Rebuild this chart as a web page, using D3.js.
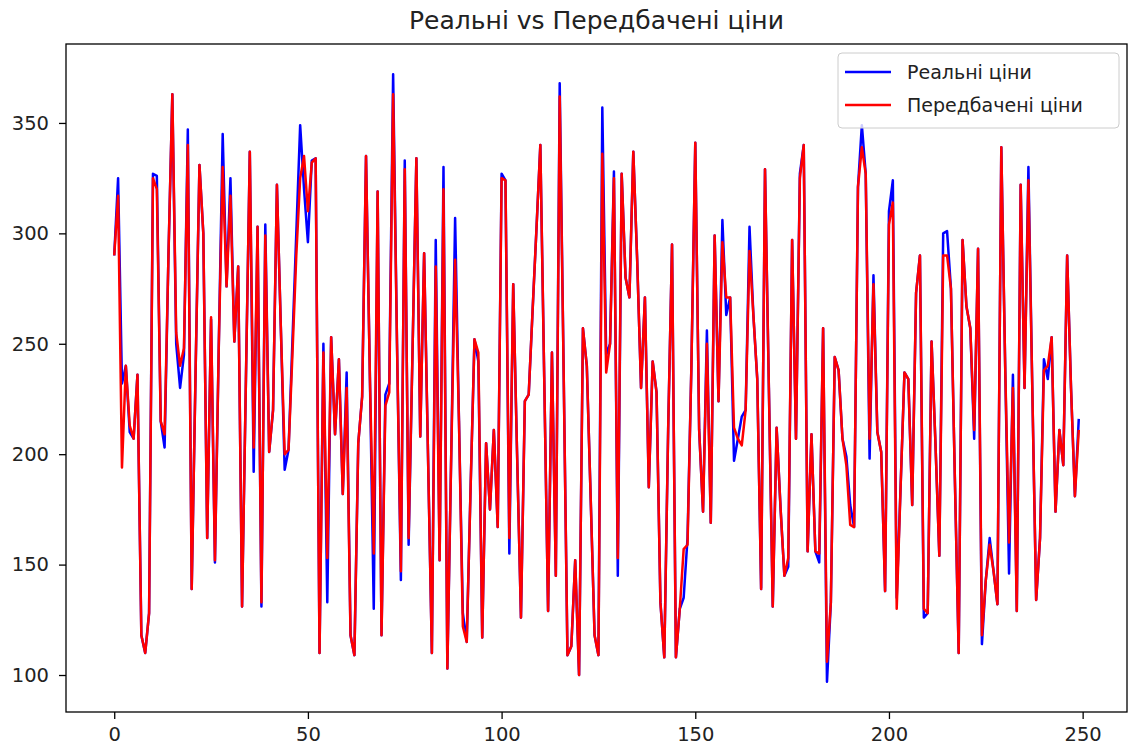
<!DOCTYPE html>
<html>
<head>
<meta charset="utf-8">
<script src="https://cdn.jsdelivr.net/npm/d3@7"></script>
<style>
  body { margin: 0; background: #fff; }
  svg { font-family: "DejaVu Sans", sans-serif; }
</style>
</head>
<body>
<div class="wrapper"></div>
<script>
var title = "Реальні vs Передбачені ціни",
    seriesNames = ["Реальні ціни", "Передбачені ціни"],
    xTicks = [0, 50, 100, 150, 200, 250],
    yTicks = [100, 150, 200, 250, 300, 350];

// real prices, index 0..249
var realPrices = [
  290, 325, 232, 240, 210, 207, 236, 118, 110, 128,
  327, 326, 215, 203, 290, 363, 250, 230, 245, 347,
  139, 237, 331, 300, 162, 261, 151, 250, 345, 276,
  325, 251, 285, 131, 234, 337, 192, 303, 131, 304,
  201, 220, 322, 258, 193, 202, 251, 300, 349, 320,
  296, 333, 334, 110, 250, 133, 253, 209, 243, 182,
  237, 118, 109, 205, 226, 335, 235, 130, 319, 118,
  227, 232, 372, 250, 143, 333, 159, 246, 334, 208,
  291, 200, 110, 297, 152, 330, 103, 200, 307, 215,
  128, 115, 185, 252, 242, 117, 205, 175, 211, 167,
  327, 324, 155, 277, 200, 126, 224, 227, 265, 302,
  340, 235, 129, 246, 145, 368, 240, 109, 113, 152,
  100, 257, 240, 180, 118, 109, 357, 245, 250, 328,
  145, 327, 280, 271, 337, 288, 230, 271, 185, 242,
  228, 133, 108, 211, 295, 108, 130, 135, 162, 240,
  341, 211, 174, 256, 169, 299, 224, 306, 263, 271,
  197, 207, 217, 220, 303, 263, 234, 139, 329, 230,
  131, 212, 176, 145, 149, 297, 207, 327, 340, 156,
  209, 156, 151, 257, 97, 133, 244, 238, 207, 199,
  177, 167, 321, 349, 327, 198, 281, 210, 201, 138,
  310, 324, 135, 185, 237, 234, 177, 273, 290, 126,
  128, 251, 205, 154, 300, 301, 275, 190, 110, 297,
  267, 257, 207, 293, 114, 143, 162, 147, 132, 339,
  240, 146, 236, 129, 322, 230, 330, 230, 134, 162,
  243, 234, 253, 174, 211, 195, 290, 230, 181, 216
];

// predicted prices, index 0..249
var predictedPrices = [
  290, 317, 194, 240, 213, 207, 236, 118, 110, 128,
  325, 320, 215, 209, 290, 363, 255, 240, 248, 340,
  139, 237, 331, 300, 162, 262, 152, 250, 330, 276,
  317, 251, 285, 131, 234, 337, 203, 303, 133, 299,
  201, 220, 322, 258, 200, 202, 245, 290, 325, 335,
  310, 332, 334, 110, 246, 153, 253, 209, 243, 182,
  230, 118, 109, 205, 226, 335, 235, 155, 319, 118,
  222, 228, 363, 250, 147, 329, 162, 246, 334, 208,
  291, 200, 110, 285, 152, 320, 103, 200, 288, 215,
  122, 115, 185, 252, 246, 117, 205, 175, 211, 167,
  325, 324, 162, 277, 200, 126, 224, 227, 265, 302,
  340, 235, 129, 246, 145, 362, 240, 109, 113, 152,
  100, 257, 240, 180, 118, 109, 336, 237, 250, 325,
  153, 327, 280, 271, 337, 288, 230, 271, 185, 242,
  228, 133, 108, 211, 295, 108, 130, 157, 159, 240,
  341, 211, 174, 250, 169, 299, 224, 296, 271, 271,
  212, 207, 204, 220, 292, 263, 234, 139, 329, 230,
  131, 212, 176, 145, 153, 297, 207, 325, 340, 156,
  209, 156, 155, 257, 106, 133, 244, 238, 207, 195,
  168, 167, 321, 339, 327, 207, 277, 210, 201, 138,
  304, 314, 130, 185, 237, 234, 177, 273, 290, 130,
  128, 251, 205, 154, 290, 290, 275, 190, 110, 297,
  267, 257, 211, 293, 118, 143, 159, 147, 132, 339,
  240, 160, 230, 129, 322, 230, 324, 230, 134, 162,
  238, 240, 253, 174, 211, 195, 290, 230, 181, 211
];

var w = 1130,
    h = 753,
    margin = {top: 44, right: 3, bottom: 41, left: 66},
    iw = w - margin.left - margin.right,
    ih = h - margin.top - margin.bottom;

var svg = d3.select(".wrapper").append("svg")
    .attr("width", w)
    .attr("height", h);

// matplotlib style 5% padding
var n = realPrices.length,
    xPad = (n - 1) * 0.05,
    allVals = realPrices.concat(predictedPrices),
    yMin = d3.min(allVals), yMax = d3.max(allVals),
    yPad = (yMax - yMin) * 0.05;

var x = d3.scaleLinear().domain([-xPad, n - 1 + xPad]).range([0, iw]);
var y = d3.scaleLinear().domain([yMin - yPad, yMax + yPad]).range([ih, 0]);

var g = svg.append("g").attr("transform", "translate(" + margin.left + "," + margin.top + ")");

var line = d3.line()
    .x(function(d, i) { return x(i); })
    .y(function(d) { return y(d); });

g.append("path").datum(realPrices)
    .attr("d", line)
    .attr("fill", "none")
    .attr("stroke", "#0000ff")
    .attr("stroke-width", 2.5)
    .attr("stroke-linejoin", "round");

g.append("path").datum(predictedPrices)
    .attr("d", line)
    .attr("fill", "none")
    .attr("stroke", "#ff0000")
    .attr("stroke-width", 2.5)
    .attr("stroke-linejoin", "round");

// axes
var xAxis = g.append("g").attr("transform", "translate(0," + ih + ")")
    .call(d3.axisBottom(x).tickValues(xTicks).tickSize(7).tickPadding(8));
var yAxis = g.append("g")
    .call(d3.axisLeft(y).tickValues(yTicks).tickSize(7).tickPadding(10));

[xAxis, yAxis].forEach(function(a) {
  a.select(".domain").remove();
  a.selectAll("line").attr("stroke", "#000").attr("stroke-width", 1.3);
  a.selectAll("text").attr("font-size", 19.5).attr("fill", "#222")
    .attr("font-family", "DejaVu Sans, sans-serif");
});

// frame
g.append("rect")
    .attr("width", iw).attr("height", ih)
    .attr("fill", "none").attr("stroke", "#000").attr("stroke-width", 1.3);

svg.append("text")
    .attr("x", margin.left + iw / 2).attr("y", 29)
    .attr("text-anchor", "middle")
    .attr("font-size", 25)
    .attr("fill", "#222")
    .text(title);

// legend
var legend = svg.append("g").attr("transform", "translate(838,53)");
legend.append("rect")
    .attr("width", 281).attr("height", 75)
    .attr("rx", 4)
    .attr("fill", "#fff").attr("fill-opacity", 0.8)
    .attr("stroke", "#ccc");
var colors = ["#0000ff", "#ff0000"];
seriesNames.forEach(function(name, i) {
  var row = legend.append("g").attr("transform", "translate(0," + (19 + i * 33) + ")");
  row.append("line").attr("x1", 7).attr("x2", 53).attr("y1", 0).attr("y2", 0)
    .attr("stroke", colors[i]).attr("stroke-width", 2.5);
  row.append("text").attr("x", 69).attr("y", 7).attr("font-size", 19)
    .attr("fill", "#222").text(name);
});
</script>
</body>
</html>
